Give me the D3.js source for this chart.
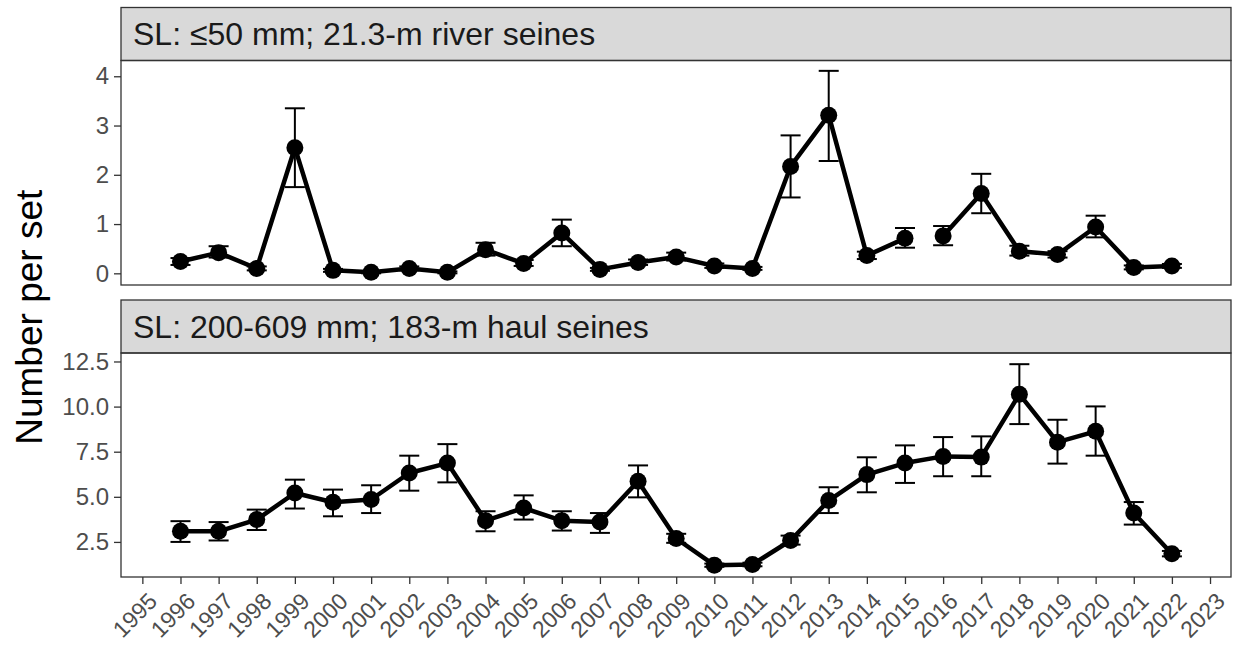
<!DOCTYPE html>
<html>
<head>
<meta charset="utf-8">
<script src="https://cdn.jsdelivr.net/npm/d3@7"></script>
<style>
  html, body { margin: 0; padding: 0; background: #ffffff; }
  svg { display: block; }
  text { font-family: "Liberation Sans", Arial, sans-serif; }
</style>
</head>
<body>
<div id="chart"></div>
<script>
// ---- Data ----
const years = [1996,1997,1998,1999,2000,2001,2002,2003,2004,2005,2006,2007,2008,2009,2010,2011,2012,2013,2014,2015,2016,2017,2018,2019,2020,2021,2022];
const tickYears = d3.range(1995, 2024);

const smallTitle = "SL: \u226450 mm; 21.3-m river seines";
const smallMean  = [0.24,0.42,0.10,2.55,0.06,0.02,0.10,0.02,0.48,0.20,0.82,0.08,0.22,0.33,0.15,0.10,2.17,3.21,0.36,0.71,0.76,1.62,0.45,0.38,0.94,0.12,0.15];
const smallLower = [0.17,0.32,0.06,1.75,0.03,0.00,0.06,0.00,0.36,0.15,0.55,0.05,0.17,0.26,0.11,0.07,1.54,2.28,0.29,0.52,0.57,1.22,0.36,0.32,0.73,0.08,0.11];
const smallUpper = [0.31,0.55,0.14,3.35,0.09,0.04,0.14,0.04,0.62,0.27,1.09,0.11,0.28,0.42,0.20,0.13,2.80,4.11,0.44,0.92,0.96,2.02,0.56,0.45,1.17,0.16,0.19];
const smallBreakAfter = [2015];           // line is not drawn between 2015 and 2016
const smallTicks = [0,1,2,3,4];

const largeTitle = "SL: 200-609 mm; 183-m haul seines";
const largeMean  = [3.09,3.09,3.74,5.21,4.70,4.85,6.32,6.87,3.68,4.38,3.68,3.60,5.86,2.69,1.21,1.25,2.58,4.79,6.23,6.87,7.24,7.20,10.69,8.03,8.63,4.10,1.84];
const largeLower = [2.50,2.58,3.16,4.35,3.92,4.10,5.34,5.80,3.09,3.74,3.13,3.00,4.97,2.45,1.12,1.15,2.35,4.10,5.25,5.77,6.14,6.14,9.03,6.84,7.28,3.46,1.70];
const largeUpper = [3.65,3.60,4.29,5.95,5.40,5.64,7.28,7.92,4.20,5.08,4.20,4.10,6.74,2.95,1.30,1.35,2.85,5.53,7.19,7.85,8.31,8.35,12.35,9.27,10.01,4.71,2.00];
const largeBreakAfter = [];
const largeTicks = [2.5,5.0,7.5,10.0,12.5];

const yTitle = "Number per set";

// ---- Layout ----
const W = 1236, H = 647;
const left = 121, right = 1231;
const stripH = 53;
const panels = [
  { title: smallTitle, mean: smallMean, lower: smallLower, upper: smallUpper, brk: smallBreakAfter,
    ticks: smallTicks, fmt: d3.format("d"), top: 7.5, bottom: 285, domain: [-0.237, 4.32], xaxis: false },
  { title: largeTitle, mean: largeMean, lower: largeLower, upper: largeUpper, brk: largeBreakAfter,
    ticks: largeTicks, fmt: d3.format(".1f"), top: 300, bottom: 577, domain: [0.556, 12.97], xaxis: true }
];

const svg = d3.select("#chart").append("svg")
  .attr("width", W).attr("height", H);

const x = d3.scaleLinear().domain([1994.44, 2023.55]).range([left, right]);

panels.forEach(p => {
  const pTop = p.top + stripH;
  const y = d3.scaleLinear().domain(p.domain).range([p.bottom, pTop]);
  const g = svg.append("g");

  g.append("rect").attr("x", left).attr("y", pTop).attr("width", right - left).attr("height", p.bottom - pTop)
    .attr("fill", "#ffffff");

  // strip
  g.append("rect").attr("x", left).attr("y", p.top).attr("width", right - left).attr("height", stripH)
    .attr("fill", "#d9d9d9").attr("stroke", "#333333").attr("stroke-width", 1.3);
  g.append("text").attr("x", left + 12).attr("y", p.top + stripH / 2 + 11)
    .attr("font-size", 32).attr("fill", "#1a1a1a").text(p.title);

  // y axis
  const ya = g.append("g").attr("transform", `translate(${left},0)`)
    .call(d3.axisLeft(y).tickValues(p.ticks).tickFormat(p.fmt).tickSize(7).tickPadding(5));
  ya.select(".domain").remove();
  ya.selectAll("line").attr("stroke", "#333333").attr("stroke-width", 1.3);
  ya.selectAll("text").attr("font-size", 24).attr("fill", "#4d4d4d")
    .attr("font-family", "'Liberation Sans', Arial, sans-serif");

  // x axis (bottom panel only)
  if (p.xaxis) {
    const xa = g.append("g").attr("transform", `translate(0,${p.bottom})`)
      .call(d3.axisBottom(x).tickValues(tickYears).tickFormat(d3.format("d")).tickSize(7));
    xa.select(".domain").remove();
    xa.selectAll("line").attr("stroke", "#333333").attr("stroke-width", 1.3);
    xa.selectAll("text")
      .attr("font-size", 23).attr("fill", "#4d4d4d")
      .attr("font-family", "'Liberation Sans', Arial, sans-serif")
      .attr("text-anchor", "end")
      .attr("y", 0).attr("dy", "0.72em")
      .attr("transform", "translate(4,14) rotate(-45)");
  }

  const data = years.map((yr, i) => ({ yr, m: p.mean[i], lo: p.lower[i], hi: p.upper[i] }));

  // error bars
  const eb = g.append("g").attr("stroke", "#000").attr("stroke-width", 2).attr("fill", "none");
  data.forEach(d => {
    const cx = x(d.yr);
    eb.append("line").attr("x1", cx).attr("x2", cx).attr("y1", y(d.lo)).attr("y2", y(d.hi));
    eb.append("line").attr("x1", cx - 10).attr("x2", cx + 10).attr("y1", y(d.lo)).attr("y2", y(d.lo));
    eb.append("line").attr("x1", cx - 10).attr("x2", cx + 10).attr("y1", y(d.hi)).attr("y2", y(d.hi));
  });

  // line segments (split at breaks)
  const segs = [];
  let cur = [];
  data.forEach(d => {
    cur.push(d);
    if (p.brk.includes(d.yr)) { segs.push(cur); cur = []; }
  });
  if (cur.length) segs.push(cur);
  const line = d3.line().x(d => x(d.yr)).y(d => y(d.m));
  segs.forEach(s => {
    g.append("path").attr("d", line(s)).attr("fill", "none")
      .attr("stroke", "#000").attr("stroke-width", 4.5).attr("stroke-linejoin", "round");
  });

  // points
  g.selectAll("circle.pt").data(data).enter().append("circle")
    .attr("class", "pt").attr("cx", d => x(d.yr)).attr("cy", d => y(d.m)).attr("r", 8.5)
    .attr("fill", "#000");

  // panel border
  g.append("rect").attr("x", left).attr("y", pTop).attr("width", right - left).attr("height", p.bottom - pTop)
    .attr("fill", "none").attr("stroke", "#333333").attr("stroke-width", 1.3);
});

// y axis title
svg.append("text")
  .attr("transform", `translate(42,${(7.5 + 577) / 2 + 25}) rotate(-90)`)
  .attr("text-anchor", "middle").attr("font-size", 37).attr("fill", "#000")
  .text(yTitle);
</script>
</body>
</html>
